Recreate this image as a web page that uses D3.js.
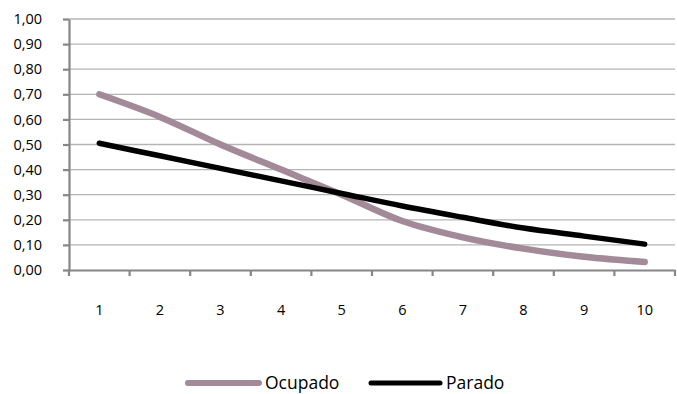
<!DOCTYPE html>
<html>
<head>
<meta charset="utf-8">
<script src="https://cdn.jsdelivr.net/npm/d3@7"></script>
<style>
  html, body { margin: 0; padding: 0; background: #fff; }
  svg { display: block; }
  text { font-family: "Open Sans", "Noto Sans", sans-serif; fill: #000; }
</style>
</head>
<body>
<svg id="chart" width="677" height="394"></svg>
<script>
const categories = ["1", "2", "3", "4", "5", "6", "7", "8", "9", "10"];
const ocupado = [0.70, 0.61, 0.50, 0.40, 0.30, 0.195, 0.13, 0.085, 0.053, 0.032];
const parado  = [0.505, 0.455, 0.405, 0.355, 0.305, 0.255, 0.21, 0.167, 0.135, 0.103];
const yTicks = [0, 0.1, 0.2, 0.3, 0.4, 0.5, 0.6, 0.7, 0.8, 0.9, 1.0];
const seriesNames = ["Ocupado", "Parado"];
const seriesColors = ["#a38a99", "#000000"];

const svg = d3.select("#chart");
const plotLeft = 69, plotRight = 675, plotTop = 19, plotBottom = 270;

const x = d3.scaleBand().domain(categories).range([plotLeft, plotRight]).paddingInner(0).paddingOuter(0);
const y = d3.scaleLinear().domain([0, 1]).range([plotBottom, plotTop]);

const axisColor = "#868686";
const gridColor = "#b4b4b4";

// horizontal gridlines
svg.append("g")
  .selectAll("line")
  .data(yTicks.filter(d => d > 0))
  .join("line")
  .attr("x1", plotLeft).attr("x2", plotRight)
  .attr("y1", d => y(d)).attr("y2", d => y(d))
  .attr("stroke", gridColor).attr("stroke-width", 1.3);

// y axis
const fmt = d => d3.format(".2f")(d).replace(".", ",");
const yAxis = svg.append("g")
  .attr("transform", `translate(${plotLeft},0)`)
  .call(d3.axisLeft(y).tickValues(yTicks).tickFormat(fmt).tickSizeOuter(0).tickSizeInner(6).tickPadding(21));
yAxis.select(".domain").attr("stroke", axisColor).attr("stroke-width", 2.2);
yAxis.selectAll(".tick line").attr("stroke", axisColor).attr("stroke-width", 2.2);
yAxis.selectAll(".tick text").attr("font-size", 14.5).attr("fill", "#000")
  .attr("font-family", "'Open Sans', sans-serif");

// x axis with ticks at category boundaries
const xAxis = svg.append("g")
  .attr("transform", `translate(0,${plotBottom})`)
  .call(d3.axisBottom(x).tickSize(0).tickPadding(35));
xAxis.select(".domain").attr("stroke", axisColor).attr("stroke-width", 2.2);
xAxis.selectAll(".tick text").attr("font-size", 14.5).attr("fill", "#000")
  .attr("font-family", "'Open Sans', sans-serif");
const boundaries = categories.map(c => x(c)).concat([x(categories[categories.length - 1]) + x.bandwidth()]);
xAxis.append("g").selectAll("line")
  .data(boundaries)
  .join("line")
  .attr("x1", d => d).attr("x2", d => d)
  .attr("y1", 0).attr("y2", 6)
  .attr("stroke", axisColor).attr("stroke-width", 2.2);

// series lines
const line = d3.line()
  .x((d, i) => x(categories[i]) + x.bandwidth() / 2)
  .y(d => y(d))
  .curve(d3.curveCardinal.tension(0));

const series = [ocupado, parado];
const widths = [6.5, 5.5];
series.forEach((vals, k) => {
  svg.append("path")
    .datum(vals)
    .attr("d", line)
    .attr("fill", "none")
    .attr("stroke", seriesColors[k])
    .attr("stroke-width", widths[k])
    .attr("stroke-linecap", "round")
    .attr("stroke-linejoin", "round");
});

// legend
const legendY = 383;
const legendItems = [{x0: 188, x1: 259}, {x0: 371, x1: 440}];
const legend = svg.append("g");
seriesNames.forEach((name, k) => {
  const it = legendItems[k];
  legend.append("line")
    .attr("x1", it.x0).attr("x2", it.x1)
    .attr("y1", legendY).attr("y2", legendY)
    .attr("stroke", seriesColors[k])
    .attr("stroke-width", widths[k] - 0.5)
    .attr("stroke-linecap", "round");
  legend.append("text")
    .attr("x", it.x1 + 6).attr("y", legendY)
    .attr("dy", "0.35em")
    .attr("font-size", 17.5)
    .text(name);
});
</script>
</body>
</html>
